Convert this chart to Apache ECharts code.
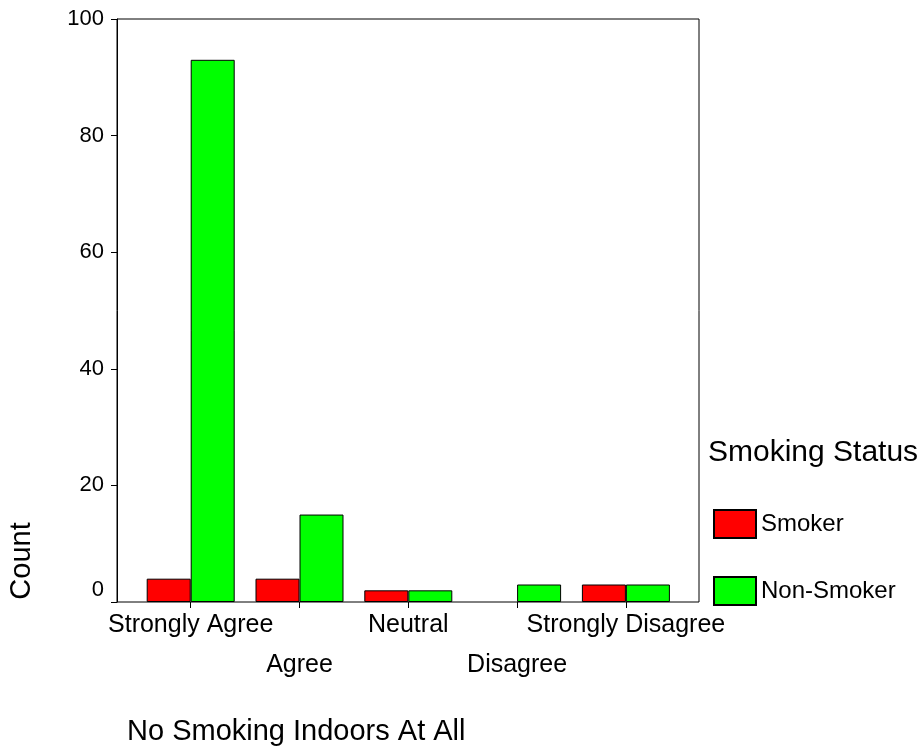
<!DOCTYPE html>
<html><head><meta charset="utf-8">
<script src="https://cdn.jsdelivr.net/npm/echarts@6/dist/echarts.min.js"></script>
<style>html,body{margin:0;padding:0;background:#fff}#c{width:924px;height:755px}</style>
</head><body><div id="c"></div>
<script>
const categories = ['Strongly Agree', 'Agree', 'Neutral', 'Disagree', 'Strongly Disagree'];
const smoker = [4, 4, 2, 0, 3];
const nonSmoker = [93, 15, 2, 3, 3];
const yTicks = [0, 20, 40, 60, 80, 100];
const seriesNames = ['Smoker', 'Non-Smoker'];

const FONT = '"Liberation Sans", Arial, sans-serif';
const toItems = arr => arr.map(v => (v === 0 ? {value: v, itemStyle: {borderWidth: 0}} : v));
const chart = echarts.init(document.getElementById('c'), null, {renderer: 'canvas'});
chart.setOption({
  animation: false,
  backgroundColor: '#fff',
  textStyle: {fontFamily: FONT, color: '#000'},
  title: [
    {text: 'No Smoking Indoors At All', left: 122, top: 712,
     textStyle: {fontFamily: FONT, fontSize: 29, fontWeight: 'normal', color: '#000'}},
    {text: 'Smoking Status', left: 703, top: 433,
     textStyle: {fontFamily: FONT, fontSize: 30, fontWeight: 'normal', color: '#000'}}
  ],
  graphic: [{
    type: 'text', x: 22, y: 561, rotation: Math.PI / 2,
    style: {text: 'Count', font: '29px ' + FONT, fill: '#000', align: 'center', verticalAlign: 'middle'}
  }],
  legend: {
    orient: 'vertical', left: 708, top: 504, itemWidth: 42, itemHeight: 28, itemGap: 37,
    icon: 'rect',
    textStyle: {fontFamily: FONT, fontSize: 24, color: '#000'},
    data: seriesNames
  },
  grid: [
    {left: 117, top: 19, width: 582, height: 583, show: true, borderColor: '#000', borderWidth: 1, backgroundColor: 'transparent'},
    {left: 136.3, top: 19, width: 544, height: 583}
  ],
  xAxis: [
    {type: 'value', gridIndex: 0, min: 0, max: 1, show: false},
    {type: 'category', gridIndex: 1, data: categories,
     axisLine: {show: false},
     axisTick: {show: true, alignWithLabel: true, length: 6, lineStyle: {color: '#000'}},
     axisLabel: {interval: 0, hideOverlap: false, fontFamily: FONT, fontSize: 25, color: '#000',
       lineHeight: 40, margin: 3,
       formatter: (v, i) => (i % 2 ? '\n' + v : v)}}
  ],
  yAxis: [
    {type: 'value', gridIndex: 0, min: yTicks[0], max: yTicks[yTicks.length - 1], interval: yTicks[1] - yTicks[0],
     axisLine: {show: true, lineStyle: {color: '#000'}},
     axisTick: {show: true, length: 6, lineStyle: {color: '#000'}},
     splitLine: {show: false},
     axisLabel: {fontFamily: FONT, fontSize: 22, color: '#000', margin: 13,
       formatter: v => (v === 0 ? '{z|0}' : String(v)),
       rich: {z: {fontFamily: FONT, fontSize: 22, color: '#000', padding: [0, 0, 24, 0]}}}},
    {type: 'value', gridIndex: 1, min: yTicks[0], max: yTicks[yTicks.length - 1], show: false}
  ],
  series: [
    {name: seriesNames[0], type: 'bar', xAxisIndex: 1, yAxisIndex: 1, data: toItems(smoker),
     barWidth: 44, barGap: '0%',
     itemStyle: {color: '#ff0000', borderColor: '#000', borderWidth: 1}},
    {name: seriesNames[1], type: 'bar', xAxisIndex: 1, yAxisIndex: 1, data: toItems(nonSmoker),
     barWidth: 44, barGap: '0%',
     itemStyle: {color: '#00ff00', borderColor: '#000', borderWidth: 1}}
  ]
});
</script></body></html>
